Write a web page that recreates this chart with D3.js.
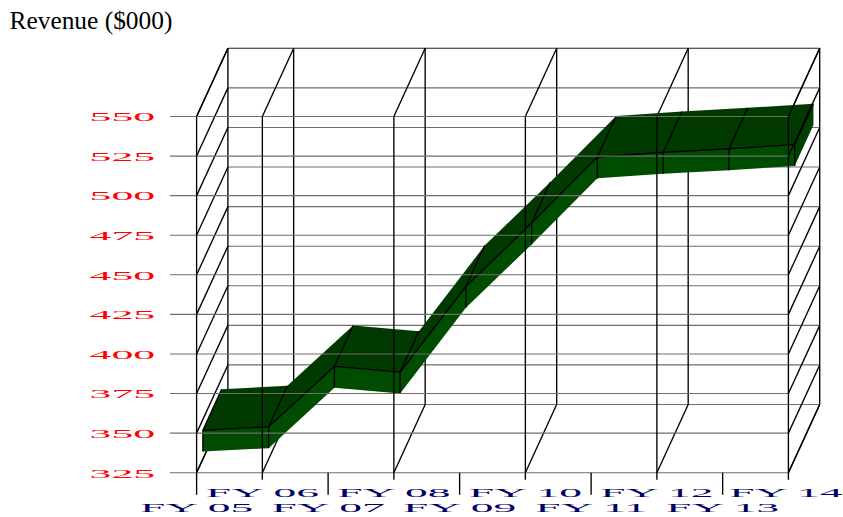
<!DOCTYPE html>
<html>
<head>
<meta charset="utf-8">
<script src="https://cdn.jsdelivr.net/npm/d3@7"></script>
<style>
  html, body { margin: 0; padding: 0; background: #fff; }
  svg { display: block; }
  text { font-family: "Liberation Serif", "Times New Roman", serif; }
</style>
</head>
<body>
<svg id="chart" width="843" height="517"></svg>
<script>
// Annual revenue in $000, one value per fiscal year
const categories = ["FY 05", "FY 06", "FY 07", "FY 08", "FY 09", "FY 10", "FY 11", "FY 12", "FY 13", "FY 14"];
const revenue = [343.2, 345.4, 383.5, 379.9, 434, 474.1, 515.8, 518.7, 521, 523.6];
const yTicks = [325, 350, 375, 400, 425, 450, 475, 500, 525, 550];
const title = "Revenue ($000)";

// Every second fiscal year carries a wall of the 3D box
const wallCategories = ["FY 05", "FY 06", "FY 08", "FY 10", "FY 12", "FY 14"];

const W = 843;
const svg = d3.select("#chart");

const x = d3.scalePoint().domain(categories).range([196.6, 788.4]);
const y = d3.scaleLinear().domain([325, 550]).range([472.7, 116.5]);

// Oblique projection: depth 0 is the front plane, depth 1 the back plane
const depthX = 31.3, depthY = -68.2;
const project = (cat, value, depth) => [x(cat) + depthX * depth, y(value) + depthY * depth];

const line = d3.line();
const ribbonFront = 0.2, ribbonBack = 0.8, ribbonThickness = 13.5;

const GRID = "#6e6e6e";
const BLACK = "#000";
const WALL_WIDTH = 1.35, GRID_WIDTH = 1.1;

function seg(parent, a, b, stroke, width) {
  parent.append("path")
    .attr("d", line([a, b]))
    .attr("fill", "none")
    .attr("stroke", stroke)
    .attr("stroke-width", width);
}

const firstCat = categories[0], lastCat = categories[categories.length - 1];

// Back plane and floor, which sit behind the ribbon
const back = svg.append("g");
yTicks.forEach(t => {
  const isTop = t === yTicks[yTicks.length - 1];
  seg(back, project(firstCat, t, 1), project(lastCat, t, 1), isTop ? "#222" : GRID, GRID_WIDTH);
  // left wall
  seg(back, project(firstCat, t, 0), project(firstCat, t, 1), BLACK, WALL_WIDTH);
});
wallCategories.forEach(c => {
  seg(back, project(c, 325, 1), project(c, 550, 1), BLACK, WALL_WIDTH);
  seg(back, project(c, 325, 0), project(c, 325, 1), BLACK, WALL_WIDTH);
  seg(back, project(c, 550, 0), project(c, 550, 1), BLACK, WALL_WIDTH);
});

// Ribbon: top faces, front faces, then the closing face and edges
const ribbon = svg.append("g");
const TOP = "#003a00", FRONT = "#004c00", END = "#003f00";
const points = categories.map((c, i) => [c, revenue[i]]);
d3.pairs(points).forEach(([[c0, v0], [c1, v1]]) => {
  ribbon.append("path")
    .attr("d", line([project(c0, v0, ribbonFront), project(c1, v1, ribbonFront),
                     project(c1, v1, ribbonBack), project(c0, v0, ribbonBack)]) + "Z")
    .attr("fill", TOP);
  ribbon.append("path")
    .attr("d", line([project(c0, v0, ribbonFront), project(c1, v1, ribbonFront),
                     project(c1, v1 - ribbonThickness, ribbonFront), project(c0, v0 - ribbonThickness, ribbonFront)]) + "Z")
    .attr("fill", FRONT);
});
const lastVal = revenue[revenue.length - 1];
ribbon.append("path")
  .attr("d", line([project(lastCat, lastVal, ribbonFront), project(lastCat, lastVal, ribbonBack),
                   project(lastCat, lastVal - ribbonThickness, ribbonBack), project(lastCat, lastVal - ribbonThickness, ribbonFront)]) + "Z")
  .attr("fill", END);

d3.pairs(points).forEach(([[c0, v0], [c1, v1]]) => {
  seg(ribbon, project(c0, v0, ribbonFront), project(c1, v1, ribbonFront), BLACK, WALL_WIDTH);
});
points.forEach(([c, v]) => {
  seg(ribbon, project(c, v, ribbonFront), project(c, v - ribbonThickness, ribbonFront), BLACK, WALL_WIDTH);
  seg(ribbon, project(c, v, ribbonFront), project(c, v, ribbonBack), BLACK, WALL_WIDTH);
});

// Front plane lines and the right wall, which overlap the ribbon
const front = svg.append("g");
yTicks.forEach(t => {
  seg(front, [170, y(t)], [x(lastCat), y(t)], GRID, GRID_WIDTH);
  seg(front, project(lastCat, t, 0), project(lastCat, t, 1), BLACK, WALL_WIDTH);
});
const longTick = 22, shortTick = 7;
wallCategories.forEach(c => {
  const long = categories.indexOf(c) % 2 === 0;
  seg(front, [x(c), y(550)], [x(c), y(325) + (long ? longTick : shortTick)], BLACK, WALL_WIDTH);
});
categories.forEach((c, i) => {
  if (i % 2 === 0 && !wallCategories.includes(c)) {
    seg(front, [x(c), y(325)], [x(c), y(325) + longTick], BLACK, WALL_WIDTH);
  }
});

// Stretched labels: the glyphs are widened, their height is untouched
const labelSize = 13.3, yStretch = 3.3, xStretch = 3.42;
const labels = svg.append("g");
yTicks.forEach(t => {
  labels.append("text")
    .attr("transform", `translate(89.5,${y(t) + 4.8}) scale(${yStretch},1)`)
    .attr("font-size", labelSize)
    .attr("fill", "#ff0000")
    .text(d3.format("d")(t));
});
categories.forEach((c, i) => {
  const label = labels.append("text")
    .attr("font-size", labelSize)
    .attr("text-anchor", "middle")
    .attr("fill", "#000066")
    .text(c);
  // Centred on the tick, but pulled in where the label would leave the page
  const half = label.node().getComputedTextLength() * xStretch / 2;
  const cx = Math.min(x(c), W - half - 0.5);
  label.attr("transform", `translate(${cx},${i % 2 === 0 ? 511.5 : 497.3}) scale(${xStretch},1)`);
});

svg.append("text")
  .attr("x", 9.5).attr("y", 28.8)
  .attr("font-size", 25.4)
  .attr("fill", "#000")
  .text(title);
</script>
</body>
</html>
